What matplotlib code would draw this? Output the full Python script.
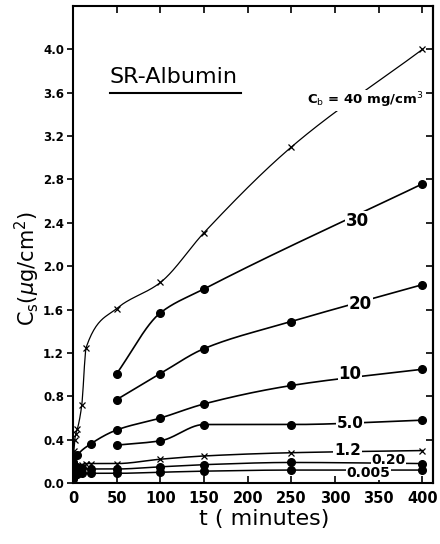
import matplotlib
matplotlib.use("Agg")
import matplotlib.pyplot as plt
import numpy as np

# surface concentration vs time, one series per bulk concentration (mg/cm3)
t_40 = [1, 2, 3, 5, 10, 15, 50, 100, 150, 250, 400]
c_40 = [0.30, 0.40, 0.45, 0.50, 0.72, 1.25, 1.61, 1.85, 2.31, 3.10, 4.00]

t_30 = [50, 100, 150, 400]
c_30 = [1.01, 1.57, 1.79, 2.76]

t_20 = [50, 100, 150, 250, 400]
c_20 = [0.77, 1.01, 1.24, 1.49, 1.83]

t_10 = [0, 5, 20, 50, 100, 150, 250, 400]
c_10 = [0.19, 0.26, 0.36, 0.49, 0.60, 0.73, 0.90, 1.05]

t_5 = [50, 100, 150, 250, 400]
c_5 = [0.35, 0.39, 0.54, 0.54, 0.58]

t_12 = [2, 5, 10, 15, 20, 50, 100, 150, 250, 400]
c_12 = [0.12, 0.15, 0.17, 0.18, 0.18, 0.18, 0.22, 0.25, 0.28, 0.30]

t_020 = [0, 2, 5, 10, 20, 50, 100, 150, 250, 400]
c_020 = [0.10, 0.14, 0.15, 0.14, 0.13, 0.13, 0.15, 0.17, 0.19, 0.18]

t_0005 = [0, 2, 5, 10, 20, 50, 100, 150, 250, 400]
c_0005 = [0.04, 0.07, 0.08, 0.09, 0.09, 0.09, 0.10, 0.11, 0.12, 0.12]

x_ticks = [0, 50, 100, 150, 200, 250, 300, 350, 400]
y_ticks = [0.0, 0.4, 0.8, 1.2, 1.6, 2.0, 2.4, 2.8, 3.2, 3.6, 4.0]


def smooth(x, y, n=300):
    # monotone cubic (pchip) curve through the measured points
    x = np.asarray(x, float)
    y = np.asarray(y, float)
    h = np.diff(x)
    d = np.diff(y) / h
    m = np.zeros_like(y)
    m[0], m[-1] = d[0], d[-1]
    for k in range(1, len(x) - 1):
        if d[k - 1] * d[k] > 0:
            w1 = 2 * h[k] + h[k - 1]
            w2 = h[k] + 2 * h[k - 1]
            m[k] = (w1 + w2) / (w1 / d[k - 1] + w2 / d[k])
    xs = np.linspace(x[0], x[-1], n)
    i = np.clip(np.searchsorted(x, xs) - 1, 0, len(x) - 2)
    s = (xs - x[i]) / h[i]
    h00 = 2 * s**3 - 3 * s**2 + 1
    h10 = s**3 - 2 * s**2 + s
    h01 = -2 * s**3 + 3 * s**2
    h11 = s**3 - s**2
    ys = h00 * y[i] + h10 * h[i] * m[i] + h01 * y[i + 1] + h11 * h[i] * m[i + 1]
    return xs, ys


fig = plt.figure(figsize=(4.4, 5.44), dpi=100)
ax = fig.add_axes([0.166, 0.112, 0.818, 0.877])

series = [
    (t_40, c_40, "x", 0.9, 2),
    (t_30, c_30, "o", 1.2, 2),
    (t_20, c_20, "o", 1.2, 2),
    (t_10, c_10, "o", 1.2, 2),
    (t_5, c_5, "o", 1.2, 2),
    (t_12, c_12, "x", 1.1, 4),
    (t_020, c_020, "o", 1.1, 2),
    (t_0005, c_0005, "o", 1.1, 2),
]
for t, c, mk, lw, z in series:
    xs, ys = smooth(t, c)
    ax.plot(xs, ys, color="black", lw=lw, zorder=z)
    if mk == "x":
        ax.plot(t, c, "x", color="black", ms=4, mew=0.9, zorder=z)
    else:
        ax.plot(t, c, "o", color="black", ms=5.5, zorder=z)

box = dict(facecolor="white", edgecolor="none", pad=0.5)
labels = [
    (335, 3.53, r"C$_{\rm b}$ = 40 mg/cm$^3$", 9.5, 3),
    (325, 2.42, "30", 12, 3),
    (329, 1.65, "20", 12, 3),
    (317, 1.01, "10", 12, 3),
    (317, 0.55, "5.0", 11, 3),
    (314, 0.30, "1.2", 11, 5),
    (361, 0.215, "0.20", 10, 3),
    (338, 0.095, "0.005", 10, 3),
]
for x, y, s, fs, z in labels:
    ax.text(x, y, s, fontsize=fs, fontweight="bold", ha="center", va="center",
            bbox=box, zorder=z)

ax.text(0.10, 0.851, "SR-Albumin", transform=ax.transAxes, fontsize=16,
        ha="left", va="center")
ax.plot([0.103, 0.467], [0.818, 0.818], transform=ax.transAxes,
        color="black", lw=1.5)

ax.set_xlim(0, 412)
ax.set_ylim(0, 4.4)
ax.set_xticks(x_ticks)
ax.set_yticks(y_ticks)
ax.set_yticklabels([f"{v:.1f}" for v in y_ticks])
ax.tick_params(axis="x", direction="in", top=True, length=5, width=1.2,
               labelsize=10.5, pad=6)
ax.tick_params(axis="y", direction="out", length=4, width=1.2, labelsize=8.5,
               pad=2.5)
for lab in ax.get_xticklabels() + ax.get_yticklabels():
    lab.set_fontweight("bold")

right = ax.secondary_yaxis("right")
right.set_yticks(y_ticks)
right.tick_params(direction="in", length=5, width=1.2, labelright=False)

for sp in list(ax.spines.values()) + list(right.spines.values()):
    sp.set_linewidth(1.5)

ax.set_xlabel("t ( minutes)", fontsize=16)
ax.xaxis.set_label_coords(0.53, -0.055)
ax.set_ylabel(r"C$_{\rm s}$($\mu$g/cm$^2$)", fontsize=15)
ax.yaxis.set_label_coords(-0.085, 0.45)

fig.savefig("out.png", dpi=100)
